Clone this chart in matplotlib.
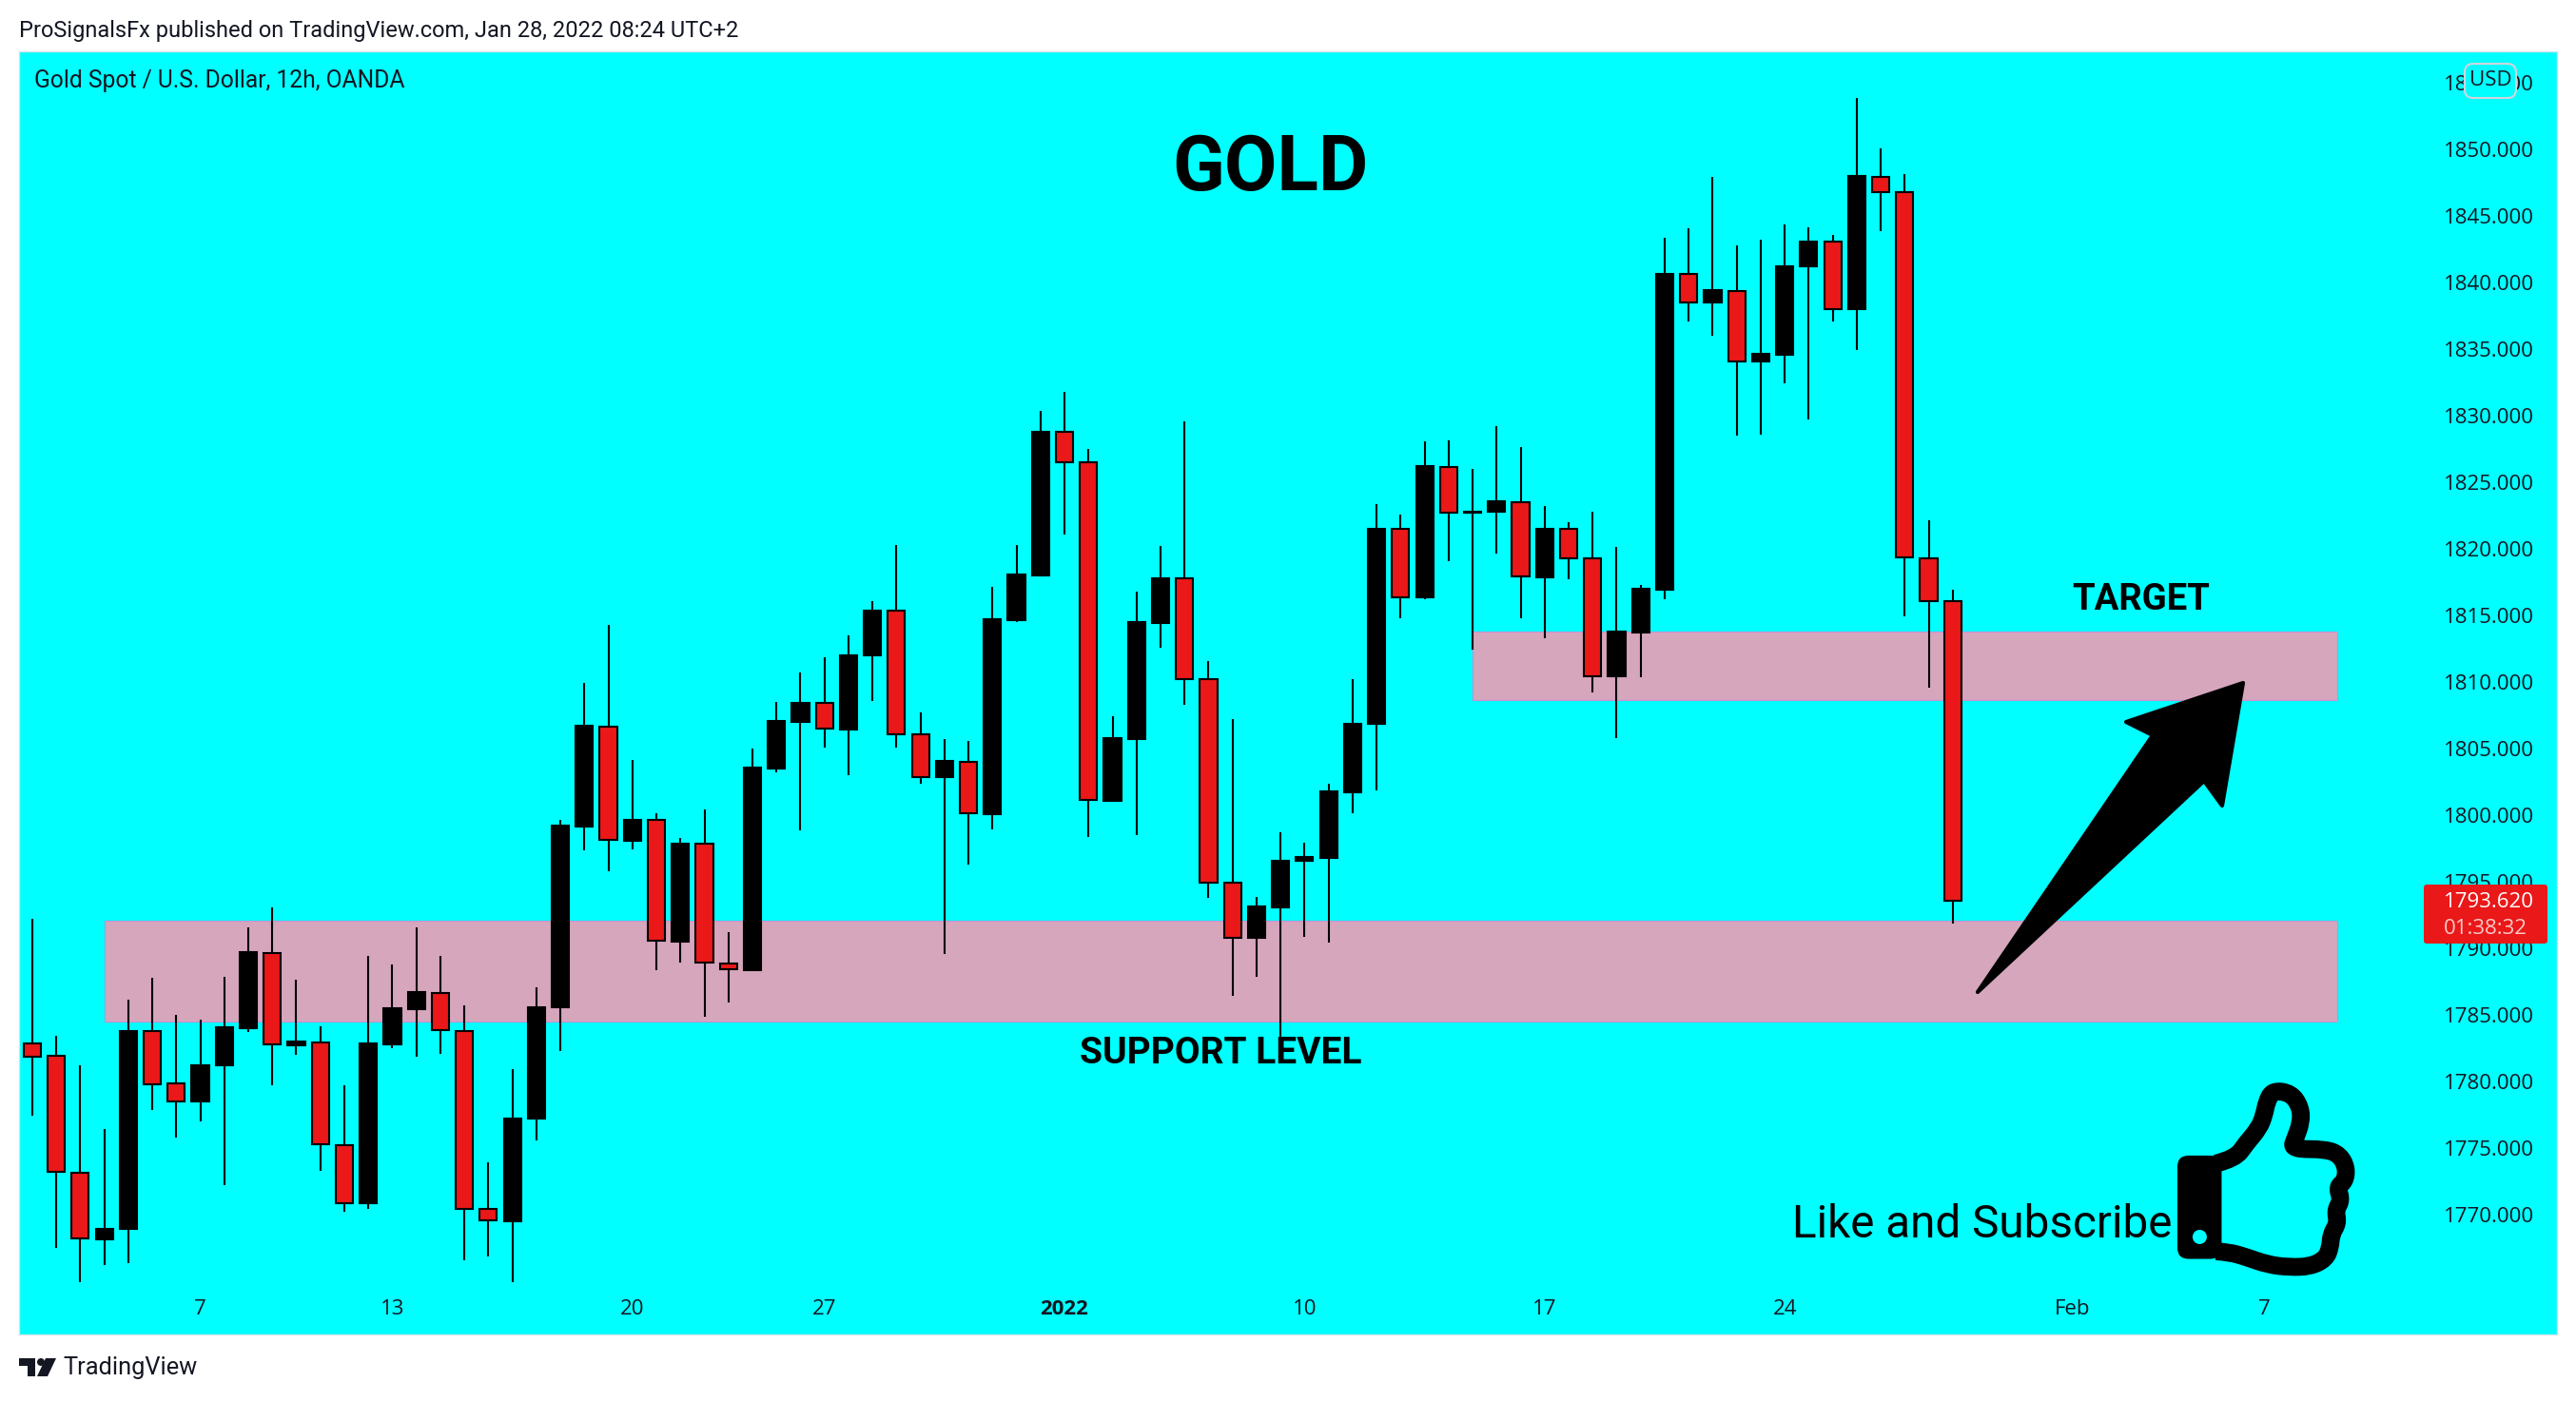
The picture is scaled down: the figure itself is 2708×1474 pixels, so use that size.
import matplotlib
matplotlib.use('Agg')
import matplotlib.pyplot as plt
from matplotlib.patches import Rectangle, Polygon, Circle, FancyBboxPatch, PathPatch
from matplotlib.path import Path

plt.rcParams['font.family'] = ['Open Sans', 'DejaVu Sans']

# 12h candles
opens = [1782.92, 1781.93, 1773.19, 1768.19, 1768.95, 1783.78, 1779.86, 1778.55, 1781.26, 1784.04,
         1789.68, 1782.76, 1782.98, 1775.27, 1770.90, 1782.79, 1785.47, 1786.68, 1783.84, 1770.48,
         1769.56, 1777.21, 1785.57, 1799.18, 1806.68, 1798.13, 1799.66, 1790.54, 1797.87, 1788.91,
         1788.40, 1803.55, 1807.06, 1808.43, 1806.49, 1812.05, 1815.36, 1806.07, 1802.86, 1804.05,
         1800.12, 1814.68, 1818.03, 1828.79, 1826.50, 1801.12, 1805.76, 1814.47, 1817.79, 1810.27,
         1794.93, 1790.80, 1793.12, 1796.57, 1796.81, 1801.73, 1806.86, 1821.55, 1816.35, 1826.19,
         1822.77, 1822.81, 1823.56, 1817.89, 1821.55, 1819.29, 1810.44, 1813.76, 1816.94, 1840.64,
         1838.55, 1839.41, 1834.08, 1834.61, 1841.21, 1843.06, 1838.01, 1847.98, 1846.83, 1819.32,
         1816.12]
highs = [1792.26, 1783.43, 1781.26, 1776.48, 1786.14, 1787.80, 1785.00, 1784.67, 1787.86, 1791.63,
         1793.12, 1787.64, 1784.20, 1779.73, 1789.49, 1788.82, 1791.63, 1789.49, 1785.73, 1773.93,
         1780.94, 1787.07, 1799.66, 1809.96, 1814.31, 1804.16, 1800.20, 1798.32, 1800.49, 1791.21,
         1805.02, 1808.52, 1810.74, 1811.88, 1813.52, 1816.09, 1820.32, 1807.71, 1805.73, 1805.59,
         1817.17, 1820.32, 1830.39, 1831.79, 1827.52, 1807.44, 1816.80, 1820.25, 1829.61, 1811.60,
         1807.23, 1793.87, 1798.72, 1797.97, 1802.35, 1810.27, 1823.36, 1822.57, 1828.11, 1828.17,
         1826.02, 1829.23, 1827.69, 1823.22, 1822.02, 1822.81, 1820.18, 1817.28, 1843.38, 1844.12,
         1847.93, 1842.81, 1843.22, 1844.37, 1844.16, 1843.63, 1853.88, 1850.11, 1848.14, 1822.15,
         1816.94]
lows = [1777.44, 1767.55, 1764.94, 1766.27, 1766.37, 1777.88, 1775.84, 1777.02, 1772.27, 1783.75,
        1779.73, 1782.06, 1773.35, 1770.26, 1770.48, 1782.54, 1781.90, 1782.12, 1766.62, 1766.91,
        1764.97, 1775.62, 1782.28, 1797.37, 1795.83, 1797.46, 1788.40, 1788.98, 1784.87, 1785.98,
        1788.40, 1803.26, 1798.90, 1805.12, 1803.04, 1808.63, 1805.08, 1802.35, 1789.57, 1796.33,
        1798.93, 1814.51, 1818.03, 1821.10, 1798.38, 1801.12, 1798.52, 1812.60, 1808.33, 1793.80,
        1786.46, 1787.89, 1783.20, 1790.87, 1790.45, 1800.16, 1801.87, 1814.82, 1816.22, 1819.09,
        1812.49, 1819.67, 1814.78, 1813.28, 1817.75, 1809.25, 1805.83, 1810.37, 1816.24, 1837.07,
        1836.04, 1828.54, 1828.62, 1832.44, 1829.77, 1837.07, 1834.94, 1843.88, 1814.93, 1809.60,
        1791.89]
closes = [1781.90, 1773.23, 1768.22, 1768.98, 1783.81, 1779.83, 1778.55, 1781.26, 1784.07, 1789.71,
          1782.79, 1783.01, 1775.30, 1770.90, 1782.86, 1785.50, 1786.72, 1783.88, 1770.48, 1769.59,
          1777.21, 1785.57, 1799.21, 1806.74, 1798.16, 1799.69, 1790.57, 1797.91, 1788.95, 1788.44,
          1803.58, 1807.09, 1808.43, 1806.52, 1812.05, 1815.40, 1806.07, 1802.89, 1804.09, 1800.16,
          1814.75, 1818.09, 1828.82, 1826.50, 1801.15, 1805.80, 1814.51, 1817.82, 1810.27, 1794.93,
          1790.83, 1793.15, 1796.61, 1796.88, 1801.80, 1806.89, 1821.55, 1816.39, 1826.23, 1822.77,
          1822.84, 1823.60, 1817.92, 1821.55, 1819.29, 1810.48, 1813.83, 1817.04, 1840.68, 1838.55,
          1839.45, 1834.12, 1834.65, 1841.25, 1843.10, 1838.05, 1848.02, 1846.83, 1819.36, 1816.12,
          1793.62]

price_ticks = [1770, 1775, 1780, 1785, 1790, 1795, 1800, 1805, 1810, 1815, 1820, 1825,
               1830, 1835, 1840, 1845, 1850, 1855]
date_pos = [7, 15, 25, 33, 43, 53, 63, 73, 85, 93]
date_labels = ['7', '13', '20', '27', '2022', '10', '17', '24', 'Feb', '7']

# start bar, end bar, low, high
support_box = [3, 96, 1784.55, 1792.13]
target_box = [60, 96, 1808.66, 1813.82]

CYAN = '#00ffff'
RED = '#ea1818'
PINK = '#d6a6bd'
INK = '#131722'

fig = plt.figure(figsize=(27.08, 14.74), dpi=100, facecolor='white')
ax = fig.add_axes([20 / 2708, 1 - 1403 / 1474, 2668 / 2708, 1349 / 1474], facecolor=CYAN)

for box in (support_box, target_box):
    ax.add_patch(Rectangle((box[0], box[2]), box[1] - box[0], box[3] - box[2],
                           facecolor=PINK, edgecolor='#c88fd0', linewidth=0.8, zorder=1))

xs = list(range(len(opens)))
ax.vlines(xs, lows, highs, color='black', linewidth=1.5, zorder=2)
bottoms = [min(o, c) for o, c in zip(opens, closes)]
sizes = [abs(o - c) for o, c in zip(opens, closes)]
colors = [RED if c < o else 'black' for o, c in zip(opens, closes)]
ax.bar(xs, sizes, bottom=bottoms, width=0.72, color=colors, edgecolor='black', linewidth=1.5, zorder=3)

ax.set_xlim(-0.55, 105.17)
ax.set_ylim(1761.03, 1857.38)
ax.yaxis.tick_right()
ax.set_yticks(price_ticks)
ax.set_yticklabels([f'{p}.000' for p in price_ticks])
ax.set_xticks(date_pos)
ax.set_xticklabels(date_labels)
ax.tick_params(axis='y', length=0, pad=-85.7, labelsize=16, labelcolor=INK)
ax.tick_params(axis='x', length=0, pad=-27, labelsize=16, labelcolor=INK)
ax.get_xticklabels()[4].set_fontweight('bold')
for s in ax.spines.values():
    s.set_color('#d6e4ea')
    s.set_linewidth(1)

# overlay in image pixels for drawings and captions
ov = fig.add_axes([0, 0, 1, 1], facecolor='none')
ov.set_xlim(0, 2708)
ov.set_ylim(1474, 0)
ov.axis('off')

ov.text(20, 32, 'ProSignalsFx published on TradingView.com, Jan 28, 2022 08:24 UTC+2',
        fontsize=17.05, family='Roboto', color=INK, va='center')
ov.text(36, 85, 'Gold Spot / U.S. Dollar, 12h, OANDA', fontsize=17.7, family='Roboto', color=INK, va='center')
ov.text(1335, 178, 'GOLD', fontsize=58, family='Roboto', fontweight='bold', color='black', ha='center', va='center')
ov.text(1283, 1107, 'SUPPORT LEVEL', fontsize=28, family='Roboto', fontweight='bold', color='black', ha='center', va='center')
ov.text(2251, 630, 'TARGET', fontsize=27.5, family='Roboto', fontweight='bold', color='black', ha='center', va='center')
ov.text(1884, 1288, 'Like and Subscribe', fontsize=34.3, family='Roboto', color='black', va='center')

# arrow
arrow = [(2358, 718), (2336, 847), (2317, 821), (2079, 1043), (2263, 773), (2235, 759)]
ov.add_patch(Polygon(arrow, closed=True, facecolor='black', edgecolor='black', linewidth=3, joinstyle='round'))

# thumbs up icon, points follow the hand outline
def zx(v):
    return 2000 + v / 2.215

def zy(v):
    return 850 + v / 2.513

ov.add_patch(FancyBboxPatch((zx(640), zy(917)), zx(743) - zx(640), zy(1190) - zy(917),
                            boxstyle='round,pad=0,rounding_size=12', facecolor='black', edgecolor='none'))
ov.add_patch(Circle((zx(692), zy(1132)), 7.5, facecolor=CYAN, linewidth=0))
hand = [(730, 938), (775, 925), (800, 885), (830, 845), (842, 810), (848, 775), (862, 745), (905, 752),
        (927, 790), (928, 830), (915, 870), (905, 900), (985, 900), (1018, 915), (1034, 950), (1030, 985),
        (1012, 1000), (1022, 1035), (1008, 1062), (1014, 1095), (998, 1125), (996, 1160), (985, 1190),
        (950, 1210), (900, 1212), (850, 1205), (800, 1185), (760, 1172), (730, 1170)]
verts = [(zx(hand[0][0]), zy(hand[0][1]))]
codes = [Path.MOVETO]
for i in range(1, len(hand) - 1):
    cx, cy = hand[i]
    nx, ny = hand[i + 1]
    if i == len(hand) - 2:
        mx, my = nx, ny
    else:
        mx, my = (cx + nx) / 2, (cy + ny) / 2
    verts += [(zx(cx), zy(cy)), (zx(mx), zy(my))]
    codes += [Path.CURVE3, Path.CURVE3]
ov.add_patch(PathPatch(Path(verts, codes), facecolor='none', edgecolor='black', linewidth=13.5,
                       capstyle='butt', joinstyle='round'))

# last price tag and currency button
ov.add_patch(FancyBboxPatch((2548, 930), 130, 62, boxstyle='round,pad=0,rounding_size=3',
                            facecolor=RED, edgecolor='none'))
ov.text(2569, 948, '1793.620', fontsize=16, color='white', va='center')
ov.text(2569, 976, '01:38:32', fontsize=16, color='#f9c8c8', va='center')
ov.add_patch(FancyBboxPatch((2591, 67), 54, 36, boxstyle='round,pad=0,rounding_size=9',
                            facecolor=CYAN, edgecolor='#d1d4dc', linewidth=1.5))
ov.text(2618, 84, 'USD', fontsize=16, color=INK, ha='center', va='center')

# TradingView logo
ov.add_patch(Polygon([(20, 1428), (37, 1428), (37, 1447), (29, 1447), (29, 1436), (20, 1436)], facecolor=INK, linewidth=0))
ov.add_patch(Circle((43, 1432), 4, facecolor=INK, linewidth=0))
ov.add_patch(Polygon([(48, 1428), (59, 1428), (50, 1447), (39, 1447)], facecolor=INK, linewidth=0))
ov.text(66, 1438, 'TradingView', fontsize=18.3, family='Roboto', color=INK, va='center')

fig.savefig('out.png', dpi=100)
